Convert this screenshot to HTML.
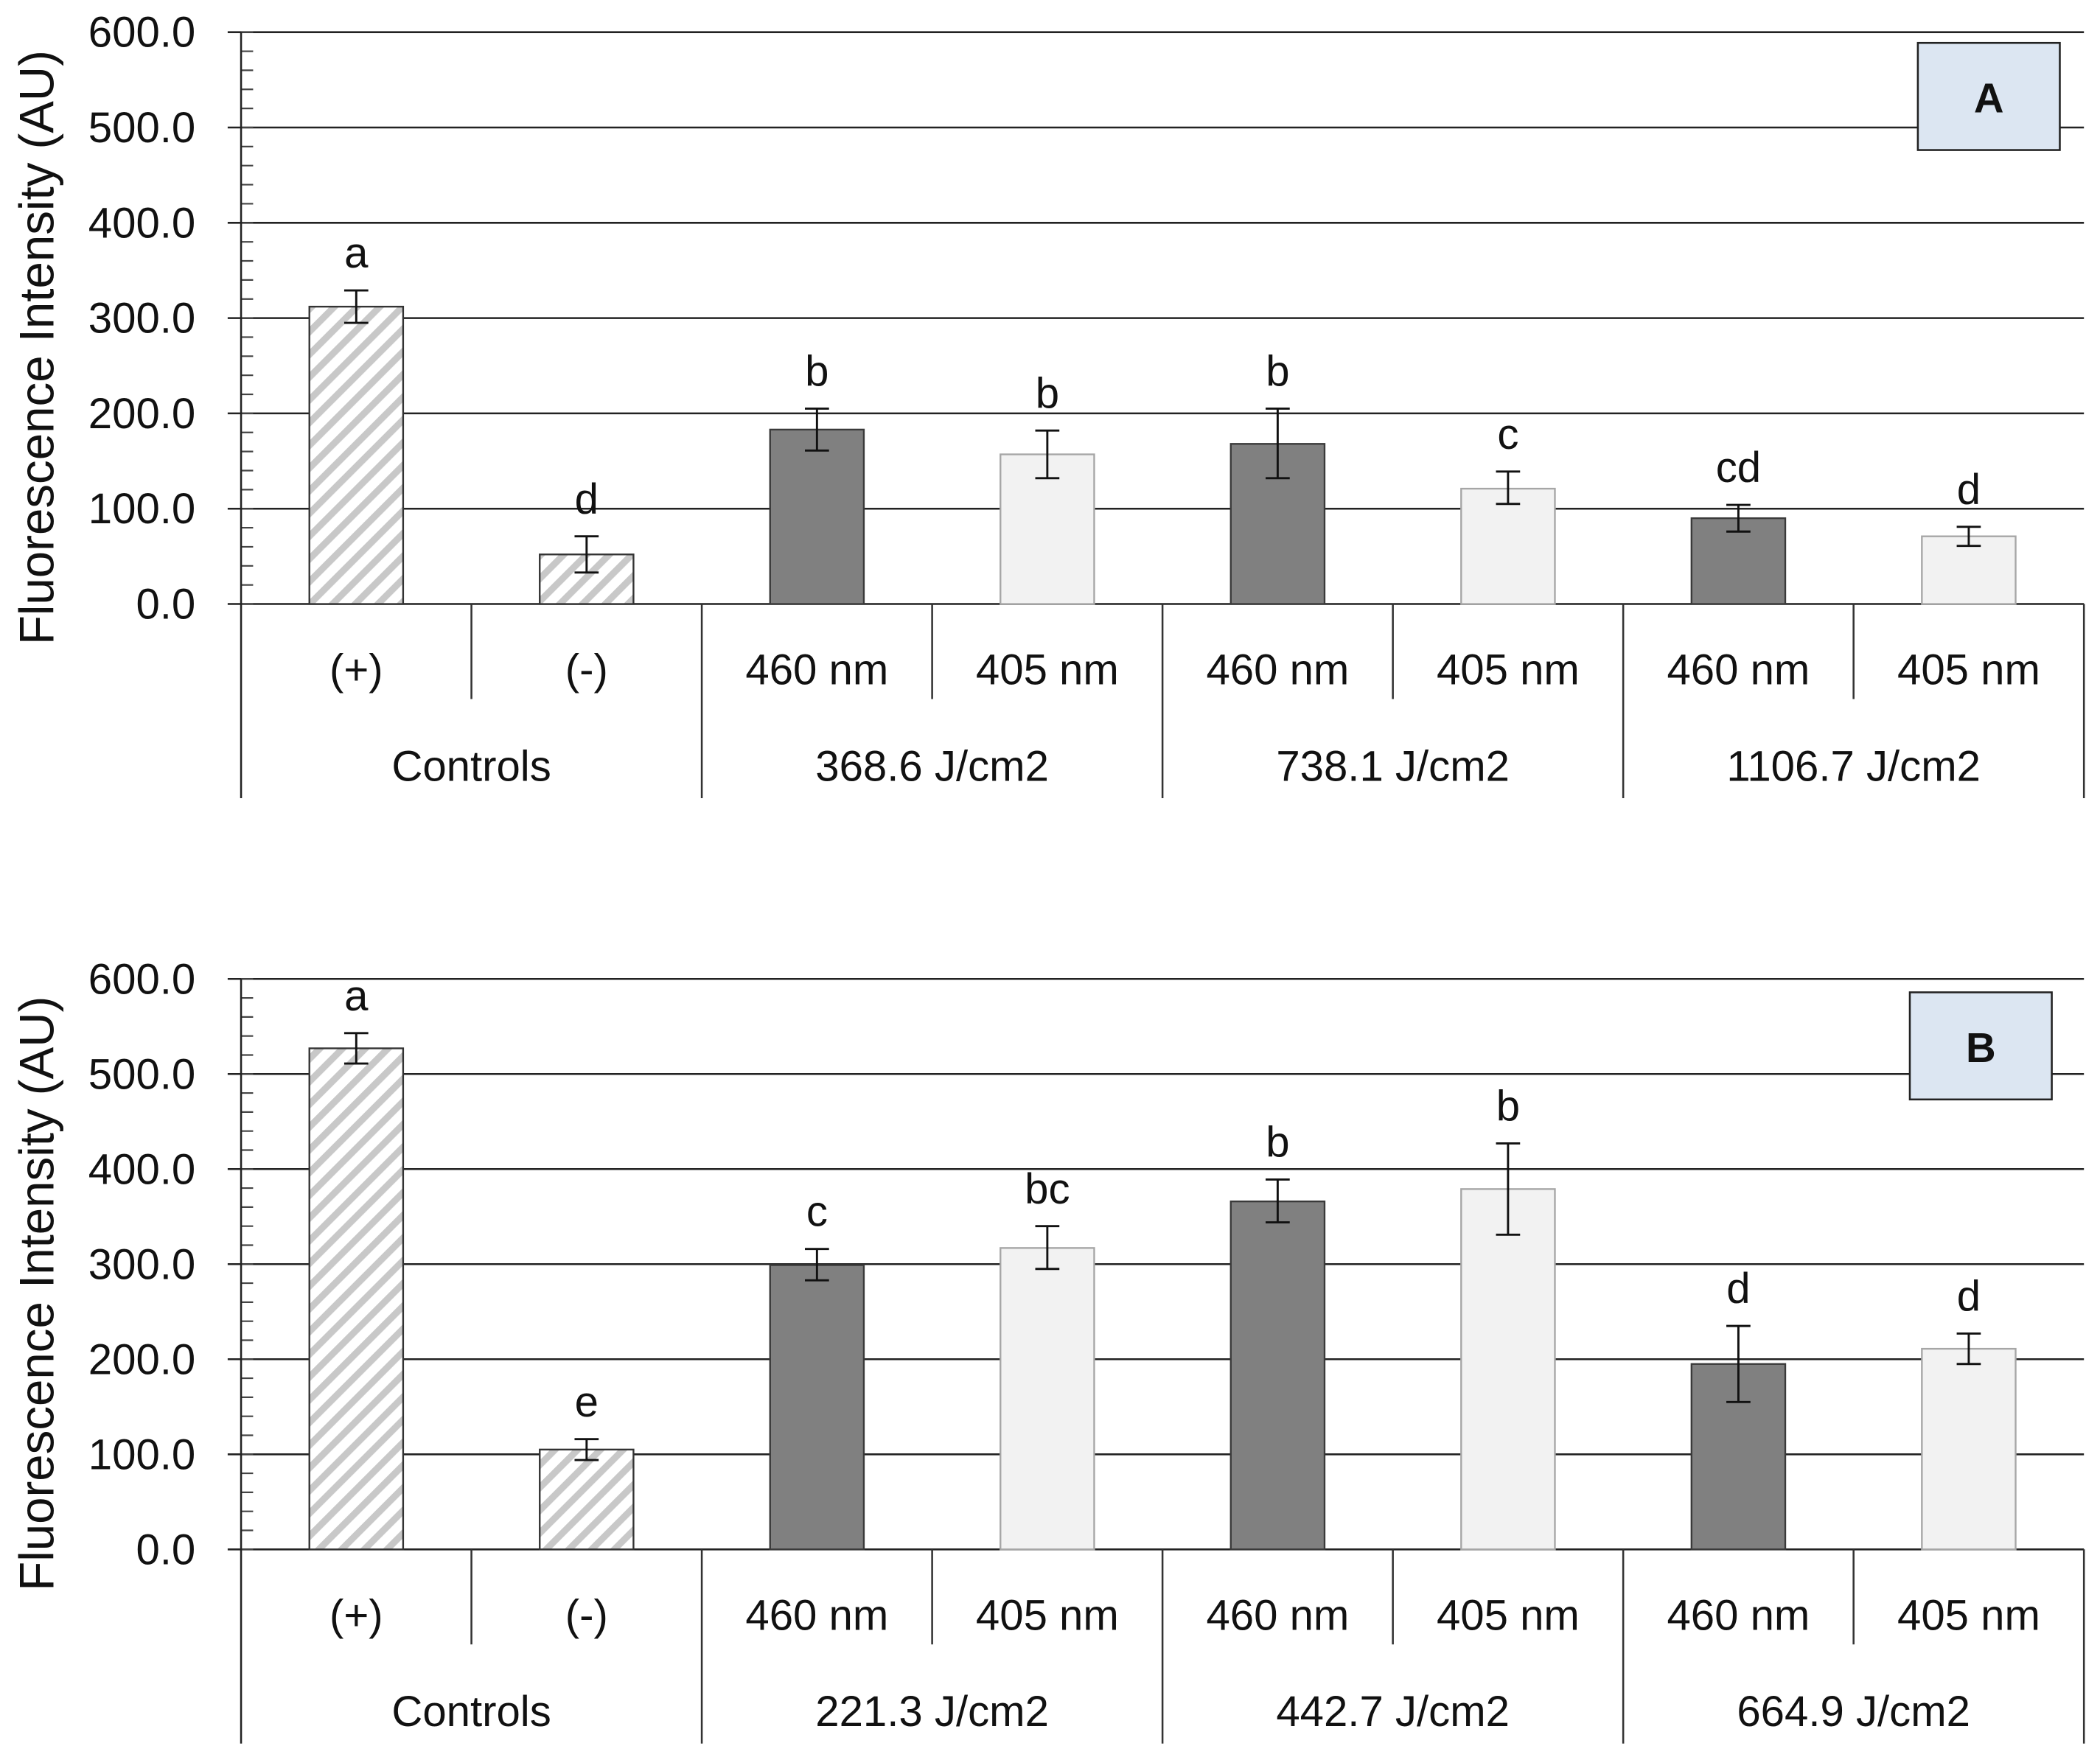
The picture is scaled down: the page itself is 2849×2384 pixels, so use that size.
<!DOCTYPE html>
<html><head><meta charset="utf-8"><style>
html,body{margin:0;padding:0;background:#fff;}
svg{display:block;font-family:"Liberation Sans",sans-serif;}
</style></head><body>
<svg id="fig" width="2849" height="2384" viewBox="0 0 1568 1312" xmlns="http://www.w3.org/2000/svg">
<defs>
<pattern id="hatch" patternUnits="userSpaceOnUse" width="12" height="12" patternTransform="rotate(45)">
<rect width="12" height="12" fill="#ffffff"/>
<rect x="0" y="0" width="5" height="12" fill="#c8c8c8"/>
</pattern>
</defs>
</svg>
<script>
const subLabels = ["(+)","(-)","460 nm","405 nm","460 nm","405 nm","460 nm","405 nm"];
const barTypes = ["hatch","hatch","dark","light","dark","light","dark","light"];
const groupLabelsA = ["Controls","368.6 J/cm2","738.1 J/cm2","1106.7 J/cm2"];
const valuesA = [312,52,183,157,168,121,90,71];
const errLowA = [295,33,161,132,132,105,76,61];
const errHighA = [329,71,205,182,205,139,104,81];
const lettersA = ["a","d","b","b","b","c","cd","d"];
const groupLabelsB = ["Controls","221.3 J/cm2","442.7 J/cm2","664.9 J/cm2"];
const valuesB = [527,105,299,317,366,379,195,211];
const errLowB = [511,94,283,295,344,331,155,195];
const errHighB = [543,116,316,340,389,427,235,227];
const lettersB = ["a","e","c","bc","b","b","d","d"];
const yTicks = [0,100,200,300,400,500,600];
const yTickLabels = ["0.0","100.0","200.0","300.0","400.0","500.0","600.0"];

const NS="http://www.w3.org/2000/svg";
const svg=document.getElementById('fig');
function mk(tag,attrs,parent,text){const e=document.createElementNS(NS,tag);for(const k in attrs)e.setAttribute(k,attrs[k]);if(text!==undefined)e.textContent=text;(parent||svg).appendChild(e);return e;}

function drawPanel(id,top,zeroY,groupLabels,values,lo,hi,letters,boxX,boxY,boxLabel){
  const g=mk('g',{});
  
  
  const x0=180,cw=172,yMax=600;
  const y=v=>zeroY-(v/yMax)*(zeroY-top);
  const xc=i=>x0+cw*(i+0.5);
  yTicks.forEach((t,i)=>{
    const l=mk('line',{x1:170,x2:1556,y1:y(t),y2:y(t),stroke:'#222','stroke-width':1.4},g);
    
    
    const tx=mk('text',{x:146,y:y(t)+11,'text-anchor':'end','font-size':32,fill:'#111'},g,yTickLabels[i]);
    
    
  });
  for(let v=0;v<=yMax;v+=20){
    const m=mk('line',{x1:180,x2:189,y1:y(v),y2:y(v),stroke:'#444','stroke-width':1.2},g);
    
    
  }
  const ax=mk('line',{x1:180,x2:180,y1:top,y2:zeroY+145,stroke:'#222','stroke-width':1.4},g);
  
  
  const title=mk('text',{x:0,y:0,transform:`translate(40,${(top+zeroY)/2+22}) rotate(-90)`,'text-anchor':'middle','font-size':36,fill:'#111'},g,'Fluorescence Intensity (AU)');
  
  
  values.forEach((v,i)=>{
    const t=barTypes[i];
    const fill=t==='hatch'?'url(#hatch)':t==='dark'?'#808080':'#f2f2f2';
    const stroke=t==='hatch'?'#333':t==='dark'?'#3a3a3a':'#a6a6a6';
    const r=mk('rect',{x:xc(i)-35,y:y(v),width:70,height:zeroY-y(v),fill:fill,stroke:stroke,'stroke-width':1.3},g);
    
    
    const e=mk('path',{d:`M${xc(i)} ${y(lo[i])}V${y(hi[i])}M${xc(i)-9} ${y(lo[i])}H${xc(i)+9}M${xc(i)-9} ${y(hi[i])}H${xc(i)+9}`,stroke:'#111','stroke-width':1.6,fill:'none'},g);
    
    
    const lt=mk('text',{x:xc(i),y:y(hi[i])-17,'text-anchor':'middle','font-size':32,fill:'#111'},g,letters[i]);
    
    
    const sl=mk('text',{x:xc(i),y:zeroY+60,'text-anchor':'middle','font-size':32,fill:'#111'},g,subLabels[i]);
    
    
  });
  for(let k=1;k<=8;k++){
    const long=(k%2===0);
    const s=mk('line',{x1:x0+cw*k,x2:x0+cw*k,y1:zeroY,y2:zeroY+(long?145:71),stroke:'#333','stroke-width':1.4},g);
    
    
  }
  groupLabels.forEach((gl,j)=>{
    const t=mk('text',{x:x0+cw*(2*j+1),y:zeroY+132,'text-anchor':'middle','font-size':32,fill:'#111'},g,gl);
    
    
  });
  const b=mk('rect',{x:boxX,y:boxY,width:106,height:80,fill:'#dce6f2',stroke:'#222','stroke-width':1.4},g);
  
  
  const bt=mk('text',{x:boxX+53,y:boxY+52,'text-anchor':'middle','font-size':31,'font-weight':'bold',fill:'#111'},g,boxLabel);
  
  
}
drawPanel('a',24,451,groupLabelsA,valuesA,errLowA,errHighA,lettersA,1432,32,'A');
drawPanel('b',731,1157,groupLabelsB,valuesB,errLowB,errHighB,lettersB,1426,741,'B');
</script>
</body></html>
